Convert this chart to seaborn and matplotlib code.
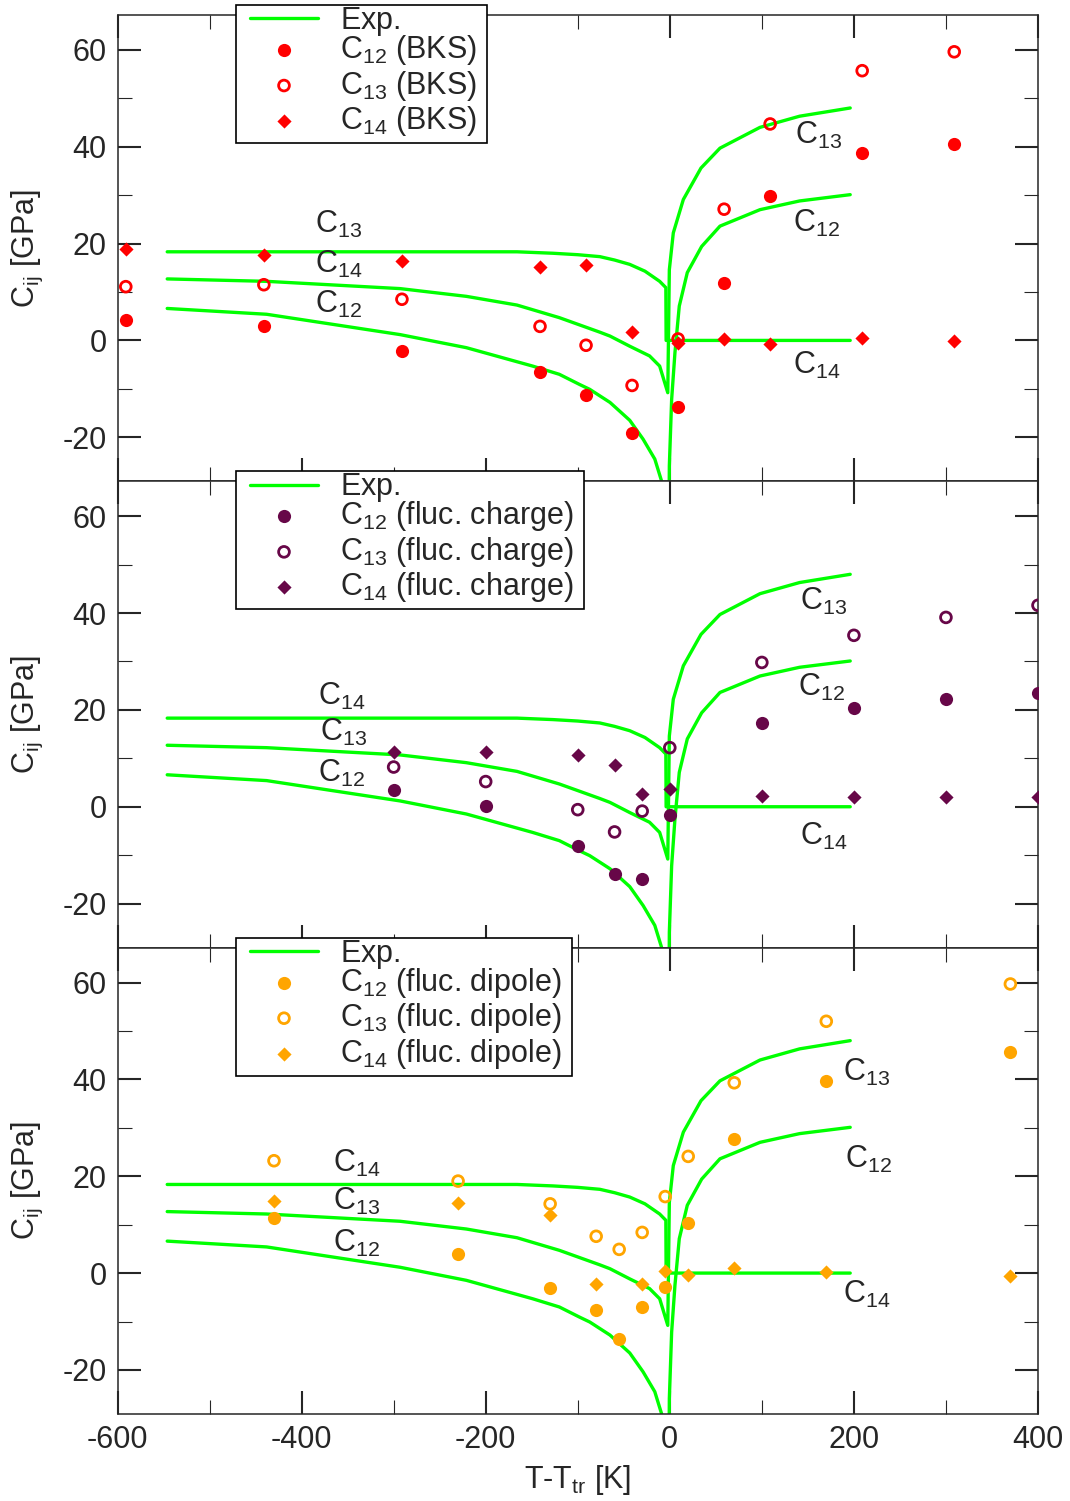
import numpy as np
import pandas as pd
import matplotlib
matplotlib.use("Agg")
import matplotlib.pyplot as plt
from matplotlib.ticker import MultipleLocator
from matplotlib.patches import Rectangle
import seaborn as sns

# ---------------- experimental curves (same in all panels) ----------------
c14_exp_x = [-546, -400, -300, -200, -166, -127, -100, -76, -60, -43.5, -27, -11, -4.3, -4.0, 196]
c14_exp_y = [18.3, 18.3, 18.3, 18.3, 18.3, 18.0, 17.7, 17.3, 16.6, 15.7, 14.3, 12.2, 10.9, 0.0, 0.0]

c13_exp_x = [-546, -438, -293, -221, -166, -120, -76, -65, -43.5, -22, -11, -2.2,
             -0.5, 3.8, 14.7, 33.9, 54.5, 98, 141, 196]
c13_exp_y = [12.7, 12.2, 10.7, 9.1, 7.3, 4.7, 1.7, 0.9, -1.2, -3.2, -5.3, -10.8,
             14.6, 22.2, 29.1, 35.6, 39.7, 44.0, 46.3, 48.0]

c12a_exp_x = [-546, -438, -293, -221, -149, -120, -98, -87, -65, -43.5, -29, -16.3, -9, -5]
c12a_exp_y = [6.6, 5.4, 1.2, -1.5, -5.3, -7.0, -9.1, -10.1, -12.8, -16.5, -20.4, -24.5, -29.0, -33.0]

c12b_exp_x = [-0.8, -0.5, 2, 5.6, 10.3, 19, 34.6, 54.5, 98, 141, 196]
c12b_exp_y = [-35.0, -25.9, -12.2, -2.5, 7.1, 14.0, 19.4, 23.6, 27.0, 28.8, 30.1]

# ---------------- BKS ----------------
bks_x = [-591, -441, -291, -141, -91, -41, 9, 59, 109, 209, 309]
bks_c12 = [4.2, 2.9, -2.1, -6.5, -11.3, -19.2, -13.7, 11.8, 29.8, 38.7, 40.6]
bks_c13 = [11.1, 11.5, 8.5, 2.9, -1.0, -9.3, 0.3, 27.1, 44.7, 55.7, 59.6]
bks_c14 = [18.9, 17.7, 16.5, 15.2, 15.5, 1.7, -0.6, 0.3, -0.8, 0.4, -0.2]

# ---------------- fluctuating charge ----------------
fq_x = [-300, -200, -100, -60, -30, 0, 100, 200, 300, 400]
fq_c12 = [3.4, 0.1, -8.2, -13.8, -15.0, -1.8, 17.2, 20.3, 22.2, 23.4]
fq_c13 = [8.2, 5.2, -0.6, -5.2, -0.9, 12.2, 29.8, 35.4, 39.1, 41.6]
fq_c14 = [11.3, 11.3, 10.7, 8.7, 2.7, 3.6, 2.3, 2.1, 2.1, 2.1]

# ---------------- fluctuating dipole ----------------
fd_x = [-430, -230, -130, -80, -55, -30, -5, 20, 70, 170, 370]
fd_c12 = [11.4, 4.0, -3.0, -7.6, -13.6, -7.1, -2.9, 10.3, 27.7, 39.6, 45.6]
fd_c13 = [23.2, 19.0, 14.3, 7.6, 4.9, 8.4, 15.8, 24.1, 39.3, 52.0, 59.7]
fd_c14 = [14.9, 14.5, 12.0, -2.3, None, -2.2, 0.5, -0.4, 1.0, 0.3, -0.6]

x_ticks = [-600, -400, -200, 0, 200, 400]
y_ticks = [-20, 0, 20, 40, 60]

# ---------------- style ----------------
sns.set_style("ticks")
plt.rcParams["font.family"] = ["Liberation Sans", "DejaVu Sans"]
plt.rcParams["mathtext.fontset"] = "custom"
plt.rcParams["mathtext.rm"] = "Liberation Sans"
plt.rcParams["mathtext.it"] = "Liberation Sans:italic"
plt.rcParams["mathtext.bf"] = "Liberation Sans:bold"
plt.rcParams["axes.unicode_minus"] = False
FS = 22
FS_PX = FS * 100 / 72

GREEN = "#00ff00"
panels = [
    ("BKS", "#ff0000", bks_x, bks_c12, bks_c13, bks_c14),
    ("fluc. charge", "#670748", fq_x, fq_c12, fq_c13, fq_c14),
    ("fluc. dipole", "#ffa500", fd_x, fd_c12, fd_c13, fd_c14),
]

# curve label positions (data coords) per panel
labels_left = [
    [("13", -385, 22.3), ("14", -385, 14.0), ("12", -385, 5.7)],
    [("14", -382, 21.1), ("13", -380, 13.5), ("12", -382, 5.1)],
    [("14", -366, 20.9), ("13", -366, 13.1), ("12", -366, 4.4)],
]
labels_right = [
    [("13", 136, 40.5), ("12", 134, 22.5), ("14", 134, -7.0)],
    [("13", 141.5, 40.6), ("12", 139, 22.8), ("14", 141.5, -7.8)],
    [("13", 188.5, 39.6), ("12", 190, 21.7), ("14", 188, -6.2)],
]

W, H = 1070, 1501
AX_L, AX_R = 117.5, 1038
fig, axes = plt.subplots(3, 1, figsize=(W / 100, H / 100), dpi=100, sharex=True,
                         gridspec_kw=dict(hspace=0))
fig.subplots_adjust(left=AX_L / W, right=AX_R / W, top=1 - 15 / H, bottom=1 - 1414 / H)

legends = []
for i, (name, col, px, c12, c13, c14) in enumerate(panels):
    ax = axes[i]
    curves = [(c14_exp_x, c14_exp_y), (c13_exp_x, c13_exp_y),
              (c12a_exp_x, c12a_exp_y), (c12b_exp_x, c12b_exp_y)]
    for k, (cx, cy) in enumerate(curves):
        sns.lineplot(x=cx, y=cy, ax=ax, color=GREEN, lw=2.4, sort=False,
                     estimator=None, label=r"$\mathrm{Exp.}$" if k == 0 else None, zorder=2)

    df = pd.DataFrame({"x": px, "c12": c12, "c13": c13, "c14": c14})
    sns.scatterplot(data=df, x="x", y="c12", ax=ax, marker="o", s=90, color=col,
                    edgecolor=col, linewidth=0, label=r"C$_{12}$ (" + name + ")", zorder=3)
    sns.scatterplot(data=df, x="x", y="c13", ax=ax, marker="o", s=60, facecolor="none",
                    edgecolor=col, linewidth=2.0, label=r"C$_{13}$ (" + name + ")", zorder=3)
    d14 = df.dropna(subset=["c14"])
    sns.scatterplot(data=d14, x="x", y="c14", ax=ax, marker="D", s=52, color=col,
                    edgecolor=col, linewidth=0, label=r"C$_{14}$ (" + name + ")", zorder=3)

    for sub, lx, ly in labels_left[i] + labels_right[i]:
        ax.text(lx, ly, r"C$_{" + sub + "}$", fontsize=FS, ha="left", va="baseline", zorder=4)

    ax.set_xlim(-600, 400)
    ax.set_ylim(-29.1, 67.2)
    ax.xaxis.set_major_locator(MultipleLocator(200))
    ax.xaxis.set_minor_locator(MultipleLocator(100))
    ax.set_yticks(y_ticks)
    ax.yaxis.set_minor_locator(MultipleLocator(10))
    ax.tick_params(which="both", direction="in", top=True, right=True, labelsize=FS)
    ax.tick_params(which="major", length=16.5, width=1.5, pad=8)
    ax.tick_params(which="minor", length=10, width=0.8)
    for sp in ax.spines.values():
        sp.set_linewidth(1.1)
        sp.set_visible(True)
    ax.set_ylabel(r"C$_{\mathrm{ij}}$ [GPa]", fontsize=FS)
    ax.yaxis.set_label_coords(-0.079, 0.5)
    ax.set_xlabel("")

    ax_h = ax.bbox.height
    leg = ax.legend(loc="upper left",
                    bbox_to_anchor=((250 - AX_L) / (AX_R - AX_L), 1 + 16.5 / ax_h),
                    fontsize=FS, frameon=False, borderpad=0, labelspacing=0.05,
                    handlelength=68 / FS_PX, handletextpad=22 / FS_PX,
                    borderaxespad=0)
    leg.set_zorder(10)
    # first row ("Exp.") sits a little lower, as in the original layout
    shift_px = 6.5
    leg.get_texts()[0].set_y(-shift_px)
    ln = leg.get_lines()[0]
    ln.set_ydata(np.asarray(ln.get_ydata()) - shift_px * 72 / 100)
    legends.append(leg)

axes[2].set_xticks(x_ticks)
axes[2].set_xlabel(r"T-T$_{\mathrm{tr}}$ [K]", fontsize=FS, labelpad=6)

# legend frames: drawn around the legend content with xmgrace-like paddings
fig.canvas.draw()
for ax, leg in zip(axes, legends):
    bb = leg.get_window_extent()
    ax_top = ax.bbox.y1
    x0, x1 = 236, bb.x1 + 10
    y1 = ax_top + 10
    y0 = bb.y0 - 5
    inv = ax.transAxes.inverted()
    (ax0, ay0), (ax1, ay1) = inv.transform([(x0, y0), (x1, y1)])
    rect = Rectangle((ax0, ay0), ax1 - ax0, ay1 - ay0, transform=ax.transAxes,
                     facecolor="white", edgecolor="black", linewidth=1.2,
                     clip_on=False, zorder=9)
    ax.add_patch(rect)

fig.savefig("out.png", dpi=100)
